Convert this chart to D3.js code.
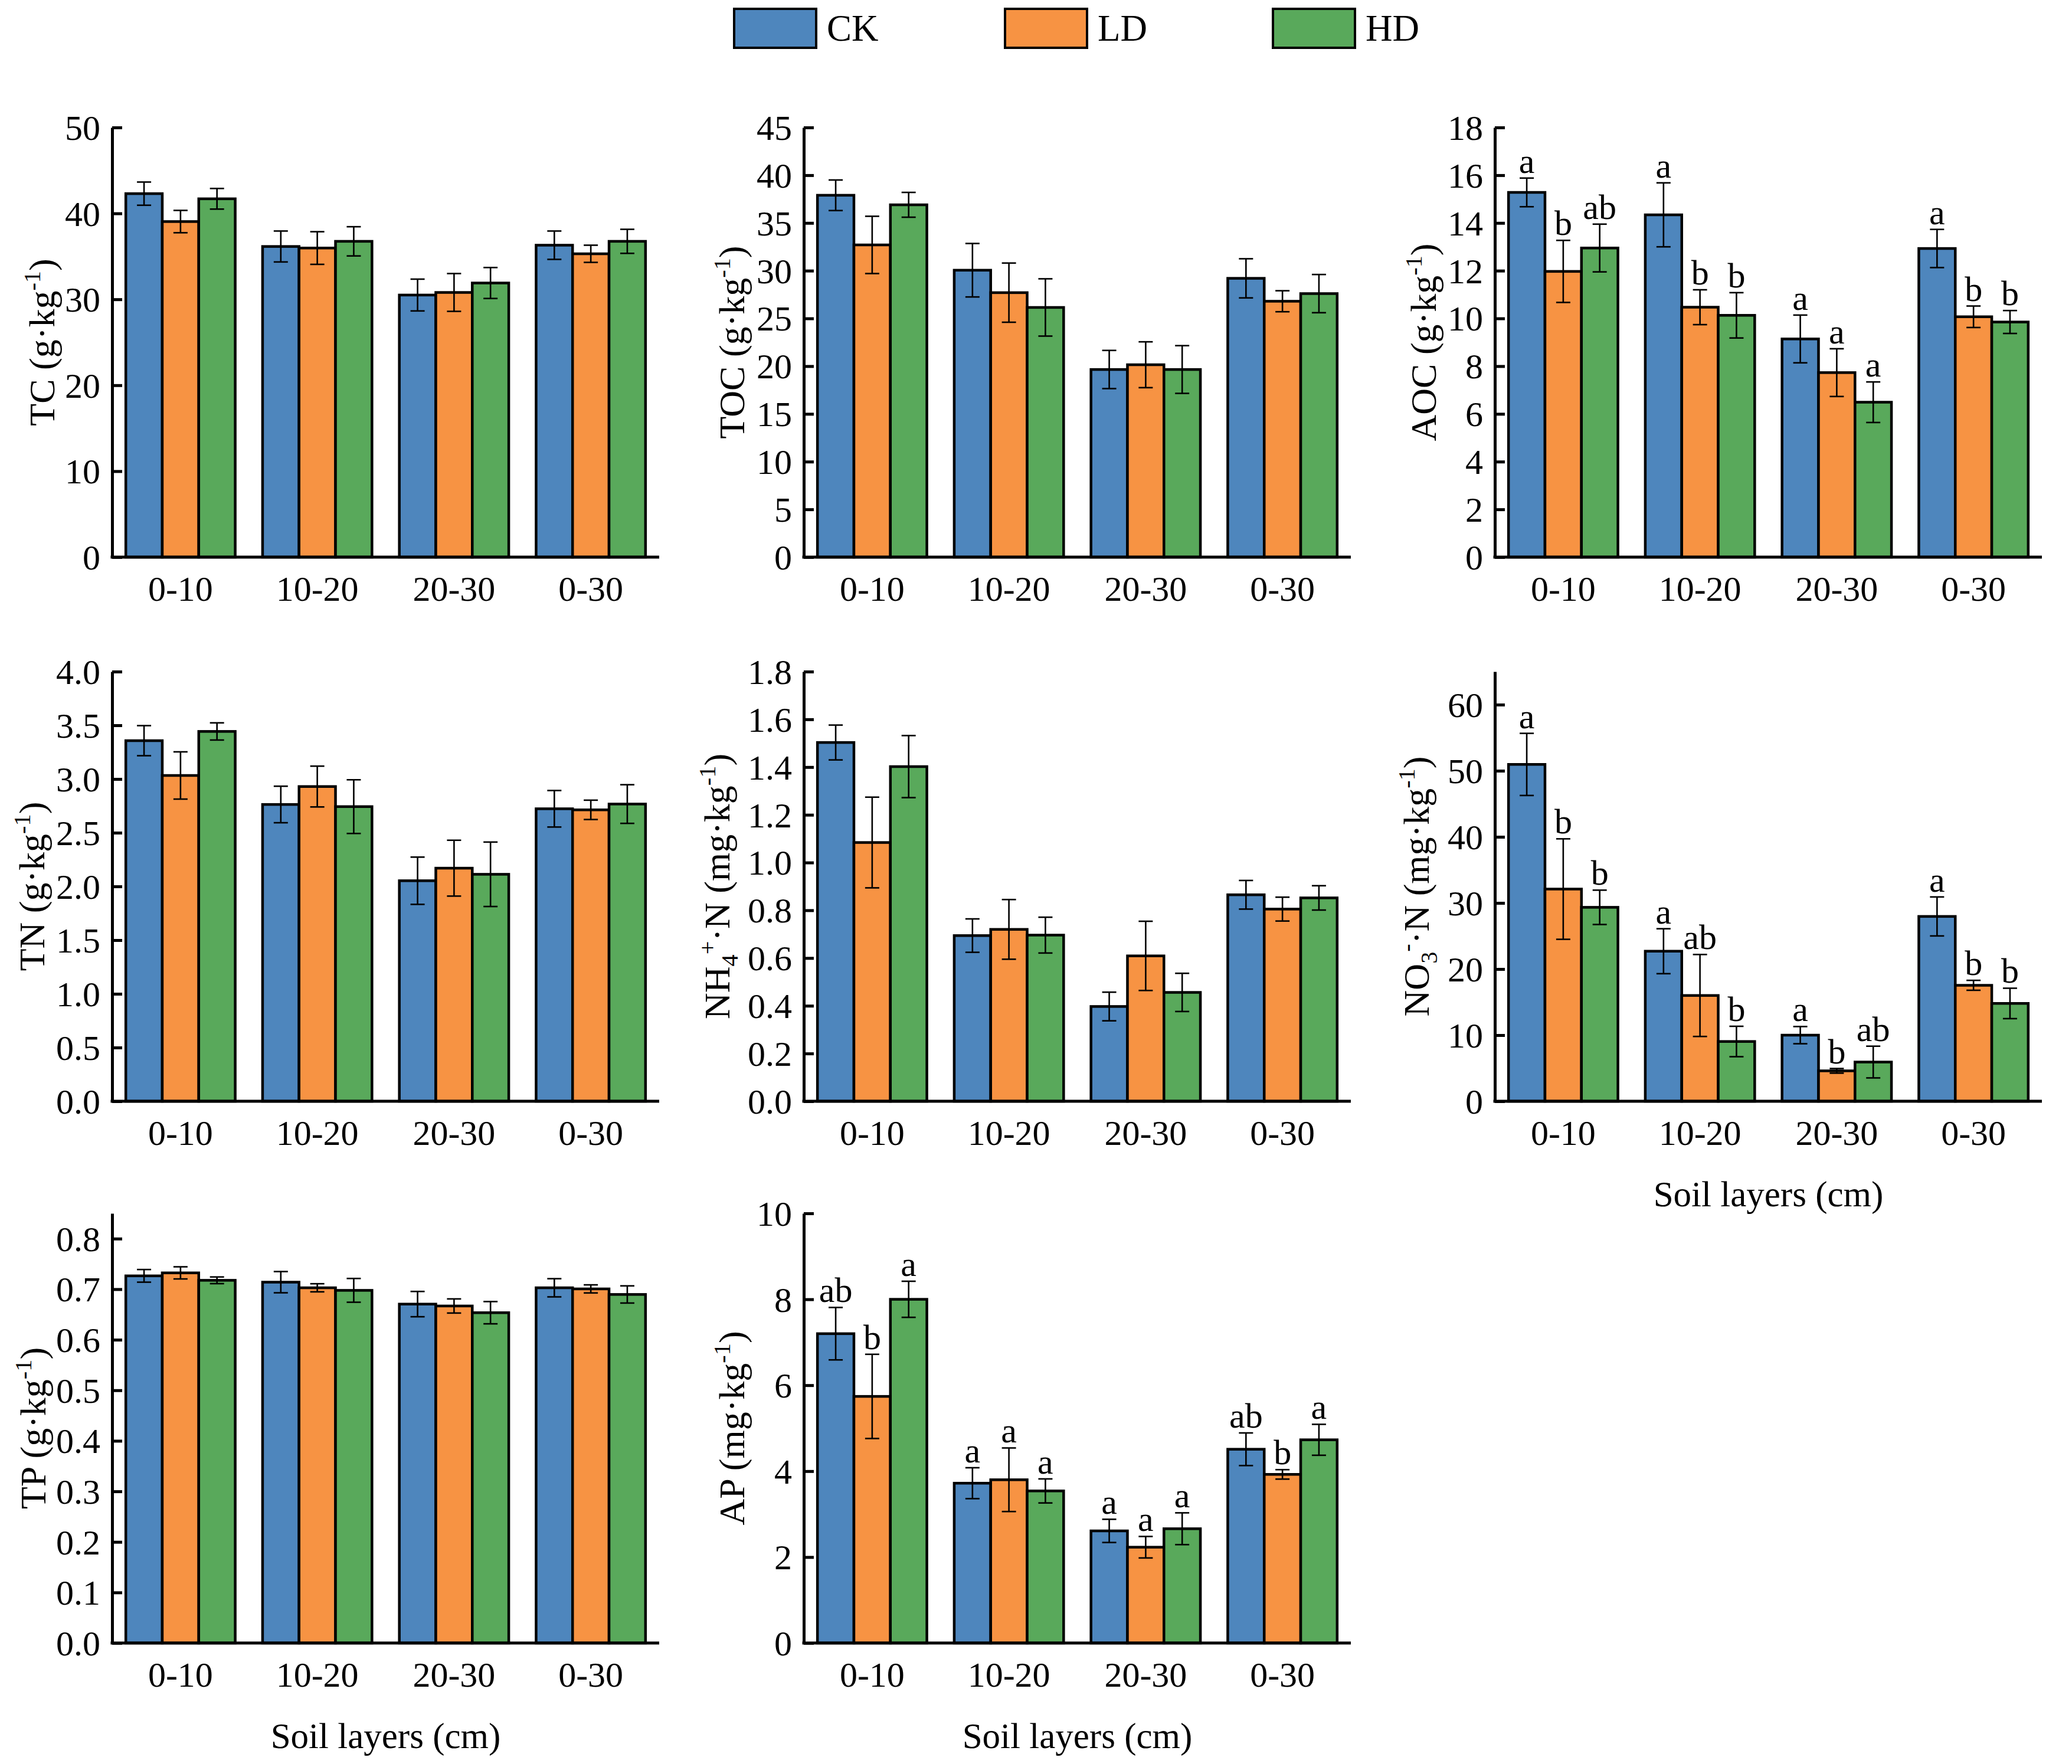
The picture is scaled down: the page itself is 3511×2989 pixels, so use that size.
<!DOCTYPE html>
<html>
<head>
<meta charset="utf-8">
<script src="https://cdn.jsdelivr.net/npm/d3@7/dist/d3.min.js"></script>
<style>
  html, body { margin: 0; padding: 0; background: #fff; }
  svg { display: block; }
  text { font-family: "Times New Roman", "Liberation Serif", serif; fill: #000; }
</style>
</head>
<body>
<svg id="chart" width="3511" height="2989"></svg>
<script>
// ---------------- DATA ----------------
const layers = ["0-10", "10-20", "20-30", "0-30"];
const treatments = ["CK", "LD", "HD"];
const colors = ["#4E86BD", "#F79343", "#59A95B"];

// each inner array = [CK, LD, HD] for one soil layer
const tcMean = [[42.3, 39.05, 41.7], [36.15, 35.97, 36.75], [30.5, 30.8, 31.9], [36.3, 35.3, 36.75]];
const tcErr  = [[1.35, 1.3, 1.2], [1.8, 1.9, 1.7], [1.85, 2.2, 1.8], [1.65, 1.0, 1.4]];
const tcTicks = [0, 10, 20, 30, 40, 50];

const tocMean = [[37.9, 32.7, 36.9], [30.05, 27.7, 26.15], [19.65, 20.15, 19.65], [29.2, 26.8, 27.6]];
const tocErr  = [[1.6, 3.0, 1.3], [2.8, 3.1, 3.0], [2.0, 2.4, 2.5], [2.05, 1.1, 2.0]];
const tocTicks = [0, 5, 10, 15, 20, 25, 30, 35, 40, 45];

const aocMean = [[15.28, 11.97, 12.95], [14.34, 10.47, 10.13], [9.14, 7.73, 6.49], [12.93, 10.07, 9.85]];
const aocErr  = [[0.6, 1.3, 1.0], [1.34, 0.73, 0.95], [1.0, 1.0, 0.85], [0.8, 0.45, 0.48]];
const aocLetters = [["a", "b", "ab"], ["a", "b", "b"], ["a", "a", "a"], ["a", "b", "b"]];
const aocTicks = [0, 2, 4, 6, 8, 10, 12, 14, 16, 18];

const tnMean = [[3.357, 3.033, 3.443], [2.763, 2.93, 2.743], [2.053, 2.17, 2.113], [2.723, 2.713, 2.767]];
const tnErr  = [[0.14, 0.22, 0.08], [0.17, 0.19, 0.25], [0.22, 0.26, 0.30], [0.17, 0.09, 0.18]];
const tnTicks = [0, 0.5, 1.0, 1.5, 2.0, 2.5, 3.0, 3.5, 4.0];

const nh4Mean = [[1.503, 1.084, 1.402], [0.694, 0.72, 0.696], [0.397, 0.609, 0.456], [0.865, 0.805, 0.852]];
const nh4Err  = [[0.073, 0.19, 0.13], [0.07, 0.125, 0.075], [0.06, 0.145, 0.08], [0.06, 0.05, 0.051]];
const nh4Ticks = [0, 0.2, 0.4, 0.6, 0.8, 1.0, 1.2, 1.4, 1.6, 1.8];

const no3Mean = [[50.96, 32.1, 29.34], [22.7, 16.0, 9.04], [10.0, 4.6, 5.93], [27.96, 17.54, 14.8]];
const no3Err  = [[4.7, 7.6, 2.6], [3.4, 6.2, 2.3], [1.3, 0.35, 2.4], [2.95, 0.75, 2.3]];
const no3Letters = [["a", "b", "b"], ["a", "ab", "b"], ["a", "b", "ab"], ["a", "b", "b"]];
const no3Ticks = [0, 10, 20, 30, 40, 50, 60];

const tpMean = [[0.7264, 0.7323, 0.7176], [0.7139, 0.7028, 0.6977], [0.6705, 0.6668, 0.6535], [0.7028, 0.7006, 0.6896]];
const tpErr  = [[0.0125, 0.012, 0.0066], [0.021, 0.008, 0.0235], [0.025, 0.014, 0.022], [0.018, 0.008, 0.017]];
const tpTicks = [0, 0.1, 0.2, 0.3, 0.4, 0.5, 0.6, 0.7, 0.8];

const apMean = [[7.2, 5.74, 8.0], [3.72, 3.8, 3.54], [2.61, 2.23, 2.66], [4.51, 3.925, 4.73]];
const apErr  = [[0.61, 0.98, 0.42], [0.36, 0.74, 0.28], [0.27, 0.25, 0.37], [0.38, 0.11, 0.36]];
const apLetters = [["ab", "b", "a"], ["a", "a", "a"], ["a", "a", "a"], ["ab", "b", "a"]];
const apTicks = [0, 2, 4, 6, 8, 10];

const xTitle = "Soil layers (cm)";

// ---------------- LAYOUT ----------------
const colX = [190, 1362, 2533];
const rowTop = [216, 1138, 2056];
const plotW = 927, plotH = 728;

const panels = [
  { col: 0, row: 0, mean: tcMean, err: tcErr, ticks: tcTicks, max: 50, fmt: d3.format("d"), labelOff: 98,
    label: [["TC (g·kg", "n"], ["-1", "sup"], [")", "n"]] },
  { col: 1, row: 0, mean: tocMean, err: tocErr, ticks: tocTicks, max: 45, fmt: d3.format("d"), labelOff: 101,
    label: [["TOC (g·kg", "n"], ["-1", "sup"], [")", "n"]] },
  { col: 2, row: 0, mean: aocMean, err: aocErr, letters: aocLetters, ticks: aocTicks, max: 18, fmt: d3.format("d"), labelOff: 100,
    label: [["AOC (g·kg", "n"], ["-1", "sup"], [")", "n"]] },
  { col: 0, row: 1, mean: tnMean, err: tnErr, ticks: tnTicks, max: 4, fmt: d3.format(".1f"), labelOff: 115,
    label: [["TN (g·kg", "n"], ["-1", "sup"], [")", "n"]] },
  { col: 1, row: 1, mean: nh4Mean, err: nh4Err, ticks: nh4Ticks, max: 1.8, fmt: d3.format(".1f"), labelOff: 126,
    label: [["NH", "n"], ["4", "sub"], ["+", "sup"], ["·N (mg·kg", "n"], ["-1", "sup"], [")", "n"]] },
  { col: 2, row: 1, mean: no3Mean, err: no3Err, letters: no3Letters, ticks: no3Ticks, max: 65, fmt: d3.format("d"), labelOff: 112,
    label: [["NO", "n"], ["3", "sub"], ["-", "sup"], ["·N (mg·kg", "n"], ["-1", "sup"], [")", "n"]], xTitle: true },
  { col: 0, row: 2, mean: tpMean, err: tpErr, ticks: tpTicks, max: 0.85, fmt: d3.format(".1f"), labelOff: 113,
    label: [["TP (g·kg", "n"], ["-1", "sup"], [")", "n"]], xTitle: true },
  { col: 1, row: 2, mean: apMean, err: apErr, letters: apLetters, ticks: apTicks, max: 10, fmt: d3.format("d"), labelOff: 101,
    label: [["AP (mg·kg", "n"], ["-1", "sup"], [")", "n"]], xTitle: true }
];

const svg = d3.select("#chart");
const FS_TICK = 60, FS_LABEL = 62, FS_LETTER = 60;

function richText(sel, parts, fs) {
  let off = 0; // current baseline offset (px, positive = down)
  parts.forEach(([t, type]) => {
    let target = 0, size = fs;
    if (type === "sup") { target = -0.38 * fs; size = 0.65 * fs; }
    if (type === "sub") { target = 0.22 * fs; size = 0.65 * fs; }
    sel.append("tspan")
      .attr("dy", target - off)
      .attr("font-size", size)
      .text(t);
    off = target;
  });
}

panels.forEach(p => {
  const x0 = colX[p.col], y0 = rowTop[p.row];
  const g = svg.append("g").attr("transform", `translate(${x0},${y0})`);

  const x = d3.scaleBand().domain(layers).range([0, plotW]).paddingInner(0.2).paddingOuter(0.1);
  const xs = d3.scaleBand().domain(treatments).range([0, x.bandwidth()]).padding(0);
  const y = d3.scaleLinear().domain([0, p.max]).range([plotH, 0]);

  const rows = [];
  layers.forEach((L, i) => treatments.forEach((T, j) => {
    rows.push({ layer: L, trt: T, j, v: p.mean[i][j], e: p.err[i][j], letter: p.letters ? p.letters[i][j] : null });
  }));

  // bars
  g.selectAll("rect.bar").data(rows).join("rect")
    .attr("class", "bar")
    .attr("x", d => x(d.layer) + xs(d.trt))
    .attr("y", d => y(d.v))
    .attr("width", xs.bandwidth())
    .attr("height", d => y(0) - y(d.v))
    .attr("fill", d => colors[d.j])
    .attr("stroke", "#000")
    .attr("stroke-width", 4.5);

  // error bars
  const eb = g.selectAll("g.eb").data(rows).join("g").attr("class", "eb")
    .attr("stroke", "#000").attr("stroke-width", 2.6);
  const cx = d => x(d.layer) + xs(d.trt) + xs.bandwidth() / 2;
  eb.append("line").attr("x1", cx).attr("x2", cx).attr("y1", d => y(d.v - d.e)).attr("y2", d => y(d.v + d.e));
  eb.append("line").attr("x1", d => cx(d) - 12).attr("x2", d => cx(d) + 12).attr("y1", d => y(d.v + d.e)).attr("y2", d => y(d.v + d.e));
  eb.append("line").attr("x1", d => cx(d) - 12).attr("x2", d => cx(d) + 12).attr("y1", d => y(d.v - d.e)).attr("y2", d => y(d.v - d.e));

  // significance letters
  if (p.letters) {
    g.selectAll("text.sig").data(rows).join("text")
      .attr("class", "sig")
      .attr("x", cx)
      .attr("y", d => y(d.v + d.e) - 9)
      .attr("text-anchor", "middle")
      .attr("font-size", FS_LETTER)
      .text(d => d.letter);
  }

  // axes
  const yAxis = d3.axisLeft(y).tickValues(p.ticks).tickFormat(p.fmt)
    .tickSizeInner(-17).tickSizeOuter(0).tickPadding(20);
  const ya = g.append("g").call(yAxis);
  ya.select(".domain").attr("stroke-width", 5);
  ya.selectAll(".tick line").attr("stroke-width", 5);
  ya.selectAll(".tick text").attr("font-size", FS_TICK).attr("font-family", null).attr("dy", "0.34em");

  const xAxis = d3.axisBottom(x).tickSize(0).tickSizeOuter(0).tickPadding(31);
  const xa = g.append("g").attr("transform", `translate(0,${plotH})`).call(xAxis);
  xa.select(".domain").attr("stroke-width", 5).attr("d", `M-2.5,0H${plotW}`);
  xa.selectAll(".tick text").attr("font-size", FS_TICK).attr("font-family", null);

  // y label
  const yl = g.append("text")
    .attr("transform", `translate(${-p.labelOff},${plotH / 2}) rotate(-90)`)
    .attr("text-anchor", "middle")
    .attr("font-size", FS_LABEL);
  richText(yl, p.label, FS_LABEL);

  // x title
  if (p.xTitle) {
    g.append("text")
      .attr("x", plotW / 2)
      .attr("y", plotH + 178)
      .attr("text-anchor", "middle")
      .attr("font-size", 61)
      .text(xTitle);
  }
});

// legend
const legX = [1244, 1703, 2157];
const leg = svg.append("g");
treatments.forEach((t, i) => {
  leg.append("rect")
    .attr("x", legX[i]).attr("y", 15)
    .attr("width", 139).attr("height", 66)
    .attr("fill", colors[i]).attr("stroke", "#000").attr("stroke-width", 4);
  leg.append("text")
    .attr("x", legX[i] + 157).attr("y", 69)
    .attr("font-size", 63)
    .text(t);
});
</script>
</body>
</html>
